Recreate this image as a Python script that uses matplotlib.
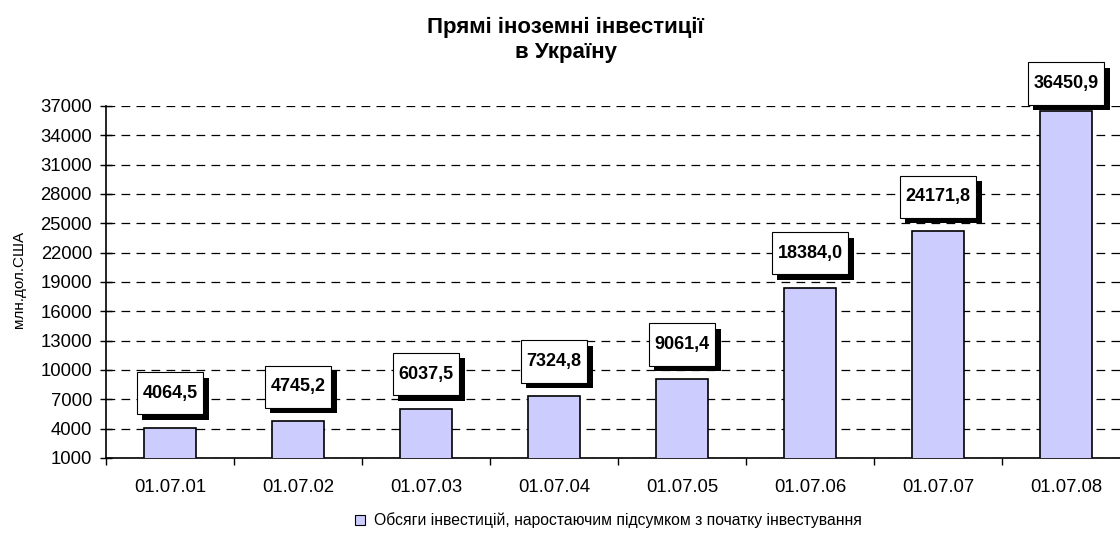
import matplotlib
matplotlib.use('Agg')
import matplotlib.pyplot as plt
import matplotlib.patheffects as pe
from matplotlib.path import Path
import numpy as np

plt.rcParams['font.family'] = ['Liberation Sans', 'DejaVu Sans']

# дані
dates = ['01.07.01', '01.07.02', '01.07.03', '01.07.04',
         '01.07.05', '01.07.06', '01.07.07', '01.07.08']
values = [4064.5, 4745.2, 6037.5, 7324.8, 9061.4, 18384.0, 24171.8, 36450.9]
labels = ['4064,5', '4745,2', '6037,5', '7324,8',
          '9061,4', '18384,0', '24171,8', '36450,9']
yticks = list(range(1000, 37001, 3000))


def tall_box(x0, y0, width, height, mutation_size):
    """прямокутник з більшим вертикальним відступом"""
    px = 0.32 * mutation_size
    py = 0.7 * mutation_size
    x0, x1 = x0 - px, x0 + width + px
    y0, y1 = y0 - py, y0 + height + py
    return Path([(x0, y0), (x1, y0), (x1, y1), (x0, y1), (x0, y0)], closed=True)


W, H = 1120, 553
fig = plt.figure(figsize=(W / 100, H / 100), dpi=100)
left, right, top, bottom = 106, 1130, 106, 458
ax = fig.add_axes([left / W, (H - bottom) / H, (right - left) / W, (bottom - top) / H])

x = np.arange(len(dates))
ax.bar(x, values, width=0.41, bottom=0, color='#CCCCFF', edgecolor='black',
       linewidth=1.2, zorder=3)
ax.set_xlim(-0.5, len(dates) - 0.5)
ax.set_ylim(1000, 37000)
ax.set_yticks(yticks)
ax.set_yticklabels([str(t) for t in yticks], fontsize=13.3)
ax.set_xticks(x)
ax.set_xticklabels(dates, fontsize=13.3)
ax.set_xticks(np.arange(len(dates) + 1) - 0.5, minor=True)
ax.tick_params(axis='x', which='major', length=0, pad=15)
ax.tick_params(axis='x', which='minor', length=5, direction='out', width=1)
ax.tick_params(axis='y', length=8, direction='inout', width=1, pad=6)

for s in ['top', 'right']:
    ax.spines[s].set_visible(False)
for s in ['left', 'bottom']:
    ax.spines[s].set_linewidth(1.2)

ax.yaxis.grid(True, linestyle=(0, (7, 5)), color='black', linewidth=0.9)
ax.set_axisbelow(True)

ax.set_ylabel('млн.дол.США', fontsize=11)
ax.yaxis.set_label_coords(-(106 - 26) / (right - left), (bottom - 279) / (bottom - top))

# підписи значень з тінню
for xi, v, lab in zip(x, values, labels):
    off = 25 if v < 30000 else 20
    t = ax.annotate(lab, (xi, v), xytext=(0, off), textcoords='offset points',
                    ha='center', va='center', fontsize=13, fontweight='bold',
                    color='black', annotation_clip=False, zorder=6,
                    bbox=dict(boxstyle=tall_box, fc='white', ec='black', lw=0.8))
    t.get_bbox_patch().set_path_effects([
        pe.SimplePatchShadow(offset=(4, -4), shadow_rgbFace='black', alpha=1),
        pe.Normal()])

fig.text(0.505, 1 - 17 / H, 'Прямі іноземні інвестиції\nв Україну', ha='center',
         va='top', fontsize=16, fontweight='bold', linespacing=1.25)

# легенда
fig.patches.append(plt.Rectangle((355 / W, 1 - 525 / H), 10 / W, 10 / H,
                                 transform=fig.transFigure, fc='#CCCCFF',
                                 ec='black', lw=0.8))
fig.text(374 / W, 1 - 520 / H,
         'Обсяги інвестицій, наростаючим підсумком з початку інвестування',
         ha='left', va='center', fontsize=11.3)

fig.savefig('out.png', dpi=100)
